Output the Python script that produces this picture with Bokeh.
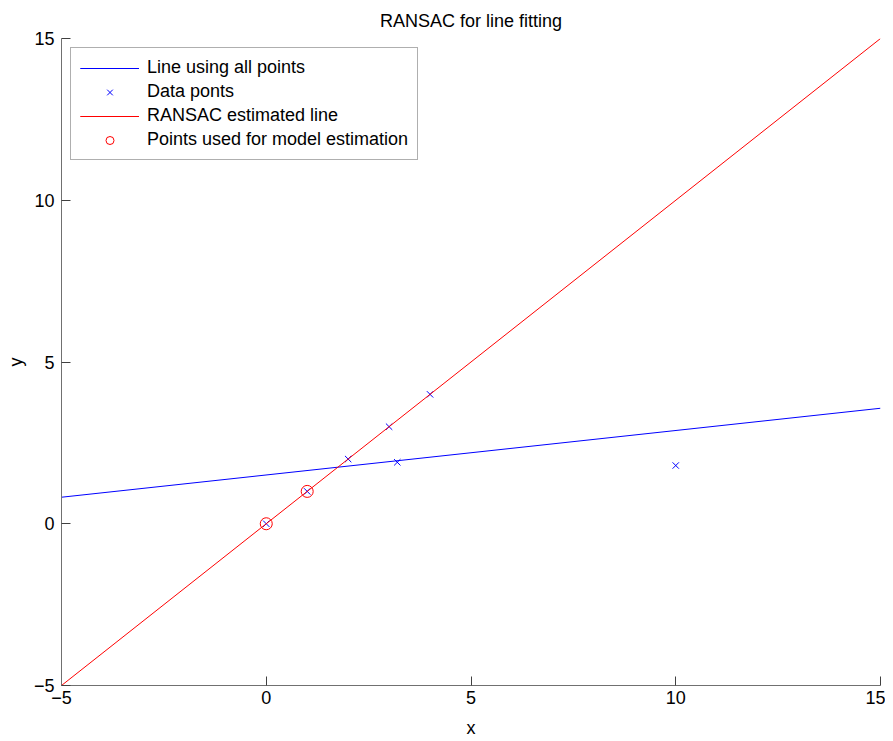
from bokeh.plotting import figure
from bokeh.models import Range1d, FixedTicker, Legend, LegendItem
from bokeh.embed import file_html
from bokeh.resources import INLINE

# Data
data_x = [0, 1, 2, 3, 4, 3.2, 10]
data_y = [0, 1, 2, 3, 4, 1.9, 1.8]
used_x = [0, 1]
used_y = [0, 1]
all_line_x = [-5, 15]
all_line_y = [0.82, 3.57]
ransac_x = [-5, 15]
ransac_y = [-5, 15]
ticks = [-5, 0, 5, 10, 15]

FONT = "Liberation Sans"
FS = "18px"

p = figure(width=885, height=741, output_backend="svg", toolbar_location=None,
           x_range=Range1d(-5, 15), y_range=Range1d(-5, 15),
           min_border_left=61, min_border_right=5, min_border_top=38, min_border_bottom=56)
p.title.text = "RANSAC for line fitting"
p.title.align = "center"
p.title.text_font = FONT
p.title.text_font_size = FS
p.title.text_font_style = "normal"
p.title.text_color = "black"
p.title.standoff = 15
p.grid.visible = False
p.outline_line_color = None
p.background_fill_color = "white"
p.border_fill_color = "white"

for ax in (p.xaxis[0], p.yaxis[0]):
    ax.ticker = FixedTicker(ticks=ticks)
    ax.minor_tick_line_color = None
    ax.major_tick_in = 9
    ax.major_tick_out = 0
    ax.axis_line_color = "#707070"
    ax.major_tick_line_color = "#404040"
    ax.major_label_text_font = FONT
    ax.major_label_text_font_size = FS
    ax.major_label_text_color = "black"
    ax.axis_label_text_font = FONT
    ax.axis_label_text_font_size = FS
    ax.axis_label_text_font_style = "normal"
    ax.axis_label_text_color = "black"
p.xaxis.axis_label = "x"
p.yaxis.axis_label = "y"
p.xaxis.major_label_standoff = 5
p.yaxis.major_label_standoff = 7
p.xaxis.axis_label_standoff = 11
p.yaxis.axis_label_standoff = 5

r1 = p.line(all_line_x, all_line_y, line_color="#0000ff", line_width=1)
r2 = p.scatter(data_x, data_y, marker="x", size=9, line_color="#0000ff", line_width=1)
r3 = p.line(ransac_x, ransac_y, line_color="#ff0000", line_width=1)
r4 = p.scatter(used_x, used_y, marker="circle", size=12, fill_color=None,
               line_color="#ff0000", line_width=1)

legend = Legend(items=[
    LegendItem(label="Line using all points", renderers=[r1, r1]),
    LegendItem(label="Data ponts", renderers=[r2]),
    LegendItem(label="RANSAC estimated line", renderers=[r3, r3]),
    LegendItem(label="Points used for model estimation", renderers=[r4]),
], location="top_left")
legend.margin = 9
legend.padding = 9
legend.spacing = 3
legend.glyph_width = 59
legend.glyph_height = 20
legend.label_standoff = 8
legend.label_height = 20
legend.label_text_font = FONT
legend.label_text_font_size = FS
legend.label_text_color = "black"
legend.border_line_color = "#606060"
legend.border_line_width = 1
legend.background_fill_alpha = 1
p.add_layout(legend)

open("out.html", "w").write(file_html(p, INLINE))
